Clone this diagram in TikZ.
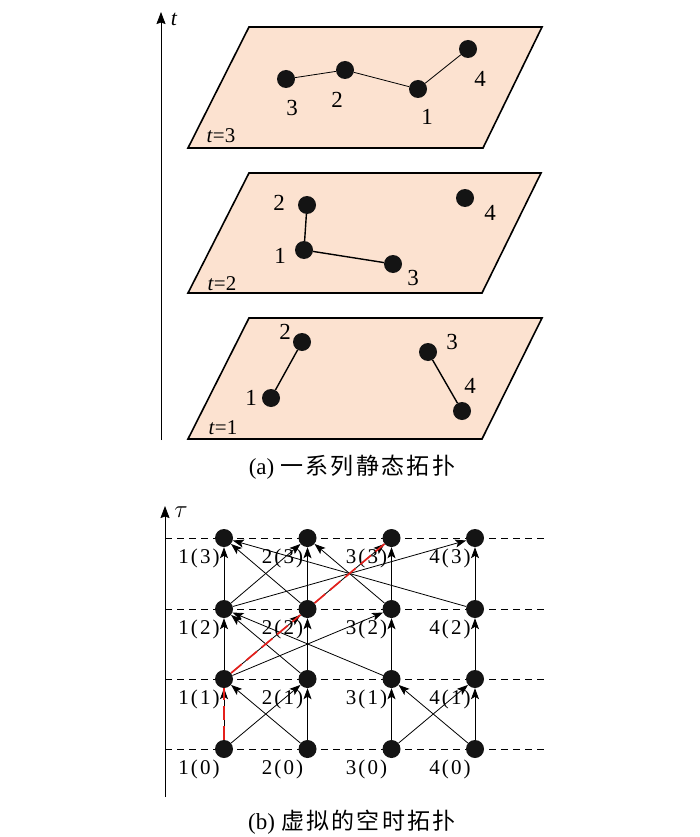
\documentclass[tikz,border=0pt]{standalone}
\usepackage{fontspec}
\setmainfont{Liberation Serif}
\newfontfamily\cjk[LetterSpace=10]{Noto Sans CJK SC}
\newfontfamily\lblfont[LetterSpace=10]{Liberation Serif}
\usetikzlibrary{arrows.meta}
\definecolor{peach}{RGB}{252,226,208}
\definecolor{pathred}{RGB}{228,32,28}
\begin{document}
\begin{tikzpicture}[x=1pt,y=-1pt,
  plane/.style={draw=black,line width=1.6pt,fill=peach,line join=miter},
  dot/.style={circle,fill=black!92,inner sep=0pt,minimum size=18pt},
  bedge/.style={line width=1.4pt},
  sedge/.style={line width=0.8pt},
  num/.style={font=\fontsize{23}{23}\selectfont,inner sep=0pt},
  tlab/.style={font=\fontsize{21}{21}\selectfont,inner sep=0pt},
  vlab/.style={font=\lblfont\fontsize{21}{21}\selectfont,inner sep=0pt},
  axis/.style={line width=0.8pt,-{Stealth[length=12pt,width=9pt,inset=1.5pt]}},
  arr/.style={line width=0.8pt,-{Stealth[length=11pt,width=8pt,inset=2.5pt]}},
  redline/.style={draw=pathred,line width=1.7pt,dash pattern=on 14pt off 6pt},
  grid/.style={line width=0.8pt,dash pattern=on 7pt off 5pt},
  captext/.style={font=\fontsize{23}{23}\selectfont,inner sep=0pt}
]
\useasboundingbox (0,0) rectangle (700,837);

% ---------- top: time axis ----------
\coordinate (ta0) at (161,440);
\coordinate (ta1) at (161,12);
\draw[axis] (ta0) -- (ta1);
\node[tlab,font=\itshape\fontsize{22}{22}\selectfont] (tlabel) at (174,19) {t};

% ---------- planes ----------
\draw[plane] (249,27) -- (542,27) -- (483,148) -- (188,148) -- cycle;
\draw[plane] (249,173) -- (541,173) -- (482,293) -- (188,293) -- cycle;
\draw[plane] (249,318) -- (542,318) -- (482,439) -- (188,439) -- cycle;

% plane t=3
\node[dot] (c1) at (418,89) {};
\node[dot] (c2) at (345,70) {};
\node[dot] (c3) at (286,79) {};
\node[dot] (c4) at (468,49) {};
\draw[sedge] (c3) -- (c2) -- (c1) -- (c4);
\node[num] (lc3) at (292,108) {3};
\node[num] (lc2) at (337,100) {2};
\node[num] (lc1) at (427,117) {1};
\node[num] (lc4) at (480,79) {4};
\node[tlab] (t3) at (221,136) {\textit{t}=3};

% plane t=2
\node[dot] (b1) at (304,250) {};
\node[dot] (b2) at (307,205) {};
\node[dot] (b3) at (393,264) {};
\node[dot] (b4) at (465,198) {};
\draw[bedge] (b2) -- (b1) -- (b3);
\node[num] (lb2) at (279,203) {2};
\node[num] (lb1) at (280,256) {1};
\node[num] (lb3) at (413,278) {3};
\node[num] (lb4) at (490,213) {4};
\node[tlab] (t2) at (222,284) {\textit{t}=2};

% plane t=1
\node[dot] (a1) at (271,398) {};
\node[dot] (a2) at (302,342) {};
\node[dot] (a3) at (428,352) {};
\node[dot] (a4) at (462,411) {};
\draw[bedge] (a1) -- (a2);
\draw[bedge] (a3) -- (a4);
\node[num] (la2) at (285,332) {2};
\node[num] (la1) at (251,398) {1};
\node[num] (la3) at (452,342) {3};
\node[num] (la4) at (470,386) {4};
\node[tlab] (t1) at (223,428) {\textit{t}=1};

\node[captext] (capa) at (352,467) {(a)\hspace{6pt}{\cjk 一系列静态拓扑}};

% ---------- bottom: space-time graph ----------
\coordinate (sa0) at (165,797);
\coordinate (sa1) at (165,506);
\draw[axis] (sa0) -- (sa1);
\node[tlab,font=\fontsize{23}{23}\selectfont] (taulabel) at (181,512) {$\tau$};

\foreach \r/\yy in {0/749,1/679,2/609,3/538}{
  \coordinate (gl\r) at (165,\yy);
  \coordinate (gr\r) at (548,\yy);
  \draw[grid] (gl\r) -- (gr\r);
  \foreach \c/\xx in {1/224,2/307.5,3/391.5,4/475}{
    \node[dot] (v\c\r) at (\xx,\yy) {};
    \node[vlab] (l\c\r) at (\xx-25,\yy+20) {\c(\r)};
  }
}

% level 0 -> 1
\foreach \s/\t in {1/1,1/2,2/1,2/2,3/3,3/4,4/3,4/4}{
  \draw[arr] (v\s0) -- (v\t1);
}
% level 1 -> 2
\foreach \s/\t in {1/1,1/2,1/3,2/1,2/2,3/1,3/3,4/4}{
  \draw[arr] (v\s1) -- (v\t2);
}
% level 2 -> 3
\foreach \s/\t in {1/1,1/2,1/4,2/1,2/2,2/3,3/2,3/3,4/1,4/4}{
  \draw[arr] (v\s2) -- (v\t3);
}

% highlighted path
\draw[redline] (v10) -- (v11);
\draw[redline] (v11) -- (v22);
\draw[redline] (v22) -- (v33);

\node[captext] (capb) at (352,822) {(b)\hspace{6pt}{\cjk 虚拟的空时拓扑}};
\end{tikzpicture}
\end{document}
